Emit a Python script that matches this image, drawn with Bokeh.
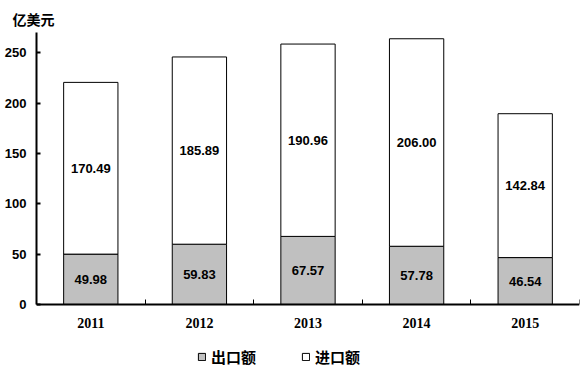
from bokeh.plotting import figure
from bokeh.models import ColumnDataSource, Range1d, FixedTicker, Legend, LegendItem, Title
from bokeh.core.properties import value
from bokeh.embed import file_html
from bokeh.resources import INLINE

years = ["2011", "2012", "2013", "2014", "2015"]
exports = [49.98, 59.83, 67.57, 57.78, 46.54]
imports = [170.49, 185.89, 190.96, 206.00, 142.84]
y_ticks = [0, 50, 100, 150, 200, 250]
unit_label = "亿美元"
series_names = ["出口额", "进口额"]

xs = [i + 0.5 for i in range(len(years))]
totals = [e + m for e, m in zip(exports, imports)]
src = ColumnDataSource(dict(
    x=xs, exp=exports, imp=imports, tot=totals,
    exp_mid=[e / 2 for e in exports],
    imp_mid=[e + m / 2 for e, m in zip(exports, imports)],
    exp_txt=["%.2f" % v for v in exports],
    imp_txt=["%.2f" % v for v in imports],
))

p = figure(width=580, height=378, output_backend="svg", toolbar_location=None,
           x_range=Range1d(0, len(years)), y_range=Range1d(-73.5, 270),
           min_border_left=36, min_border_right=1, min_border_top=32, min_border_bottom=0)
p.outline_line_color = None
p.xgrid.visible = False
p.ygrid.visible = False
p.background_fill_color = "white"
p.border_fill_color = "white"

r_exp = p.vbar(x="x", width=0.5, bottom=0, top="exp", source=src,
               fill_color="#C0C0C0", line_color="black", line_width=1)
r_imp = p.vbar(x="x", width=0.5, bottom="exp", top="tot", source=src,
               fill_color="white", line_color="black", line_width=1)

for ycol, tcol in (("exp_mid", "exp_txt"), ("imp_mid", "imp_txt")):
    p.text(x="x", y=ycol, text=tcol, source=src, text_align="center",
           text_baseline="middle", text_font=value("Liberation Sans"),
           text_font_size="13px", text_font_style="bold", text_color="black")

# y axis
ya = p.yaxis[0]
ya.ticker = FixedTicker(ticks=y_ticks, minor_ticks=[])
ya.bounds = (0, 270)
ya.axis_line_width = 2
ya.axis_line_color = "black"
ya.major_tick_in = 4
ya.major_tick_out = 0
ya.major_tick_line_width = 2
ya.minor_tick_line_color = None
ya.major_label_text_font = "Liberation Sans"
ya.major_label_text_font_size = "13px"
ya.major_label_text_font_style = "bold"
ya.major_label_text_color = "black"
ya.major_label_standoff = 10

# x axis, pinned at y = 0
xa = p.xaxis[0]
xa.fixed_location = 0
xa.ticker = FixedTicker(ticks=xs, minor_ticks=list(range(len(years) + 1)))
xa.major_label_overrides = {x: y for x, y in zip(xs, years)}
xa.axis_line_width = 2
xa.axis_line_color = "black"
xa.major_tick_line_color = None
xa.major_tick_in = 0
xa.major_tick_out = 0
xa.minor_tick_in = 5
xa.minor_tick_out = 0
xa.minor_tick_line_color = "black"
xa.minor_tick_line_width = 1
xa.major_label_text_font = "Liberation Serif"
xa.major_label_text_font_size = "14px"
xa.major_label_text_font_style = "bold"
xa.major_label_text_color = "black"
xa.major_label_standoff = 14

p.add_layout(Title(text=unit_label, align="left", offset=-24, standoff=8,
                   text_font="Noto Sans CJK SC", text_font_size="14px",
                   text_font_style="bold", text_color="black"), "above")

legend = Legend(items=[LegendItem(label=series_names[0], renderers=[r_exp]),
                       LegendItem(label=series_names[1], renderers=[r_imp])],
                orientation="horizontal", location=(161, 11),
                glyph_width=9, glyph_height=9, label_height=15, label_standoff=5,
                spacing=45, padding=0, margin=0, border_line_color=None,
                background_fill_alpha=0,
                label_text_font="Noto Sans CJK SC", label_text_font_size="15px",
                label_text_font_style="bold", label_text_color="black")
p.add_layout(legend)

open("out.html", "w").write(file_html(p, INLINE))
